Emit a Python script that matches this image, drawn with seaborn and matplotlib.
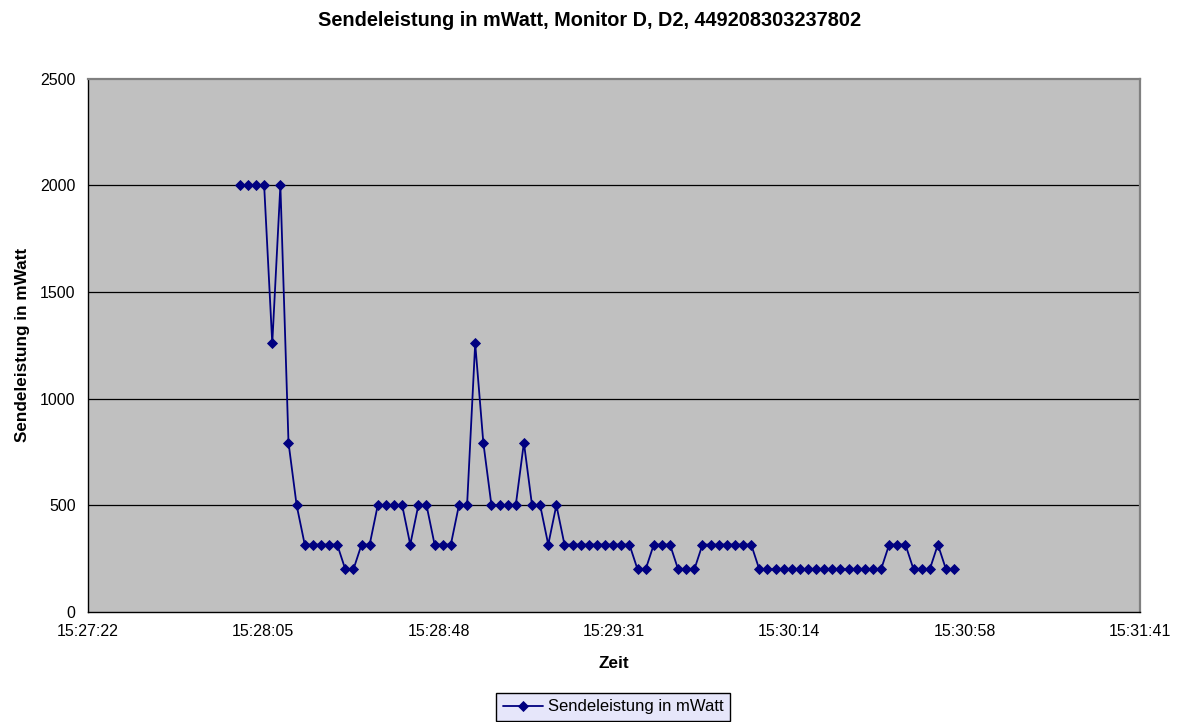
import matplotlib
matplotlib.use("Agg")
import matplotlib.pyplot as plt
import seaborn as sns
import pandas as pd

# sample times (hh:mm:ss) and transmit power in mW
times = [
    "15:27:59", "15:28:01", "15:28:03", "15:28:05", "15:28:07", "15:28:09", "15:28:11", "15:28:13",
    "15:28:15", "15:28:17", "15:28:19", "15:28:21", "15:28:23", "15:28:25", "15:28:27", "15:28:29",
    "15:28:31", "15:28:33", "15:28:35", "15:28:37", "15:28:39", "15:28:41", "15:28:43", "15:28:45",
    "15:28:47", "15:28:49", "15:28:51", "15:28:53", "15:28:55", "15:28:57", "15:28:59", "15:29:01",
    "15:29:03", "15:29:05", "15:29:07", "15:29:09", "15:29:11", "15:29:13", "15:29:15", "15:29:17",
    "15:29:19", "15:29:21", "15:29:23", "15:29:25", "15:29:27", "15:29:29", "15:29:31", "15:29:33",
    "15:29:35", "15:29:37", "15:29:39", "15:29:41", "15:29:43", "15:29:45", "15:29:47", "15:29:49",
    "15:29:51", "15:29:53", "15:29:55", "15:29:57", "15:29:59", "15:30:01", "15:30:03", "15:30:05",
    "15:30:07", "15:30:09", "15:30:11", "15:30:13", "15:30:15", "15:30:17", "15:30:19", "15:30:21",
    "15:30:23", "15:30:25", "15:30:27", "15:30:29", "15:30:31", "15:30:33", "15:30:35", "15:30:37",
    "15:30:39", "15:30:41", "15:30:43", "15:30:45", "15:30:47", "15:30:49", "15:30:51", "15:30:53",
    "15:30:55",
]
power = [
    2000, 2000, 2000, 2000, 1259, 2000, 794, 501,
    316, 316, 316, 316, 316, 200, 200, 316,
    316, 501, 501, 501, 501, 316, 501, 501,
    316, 316, 316, 501, 501, 1259, 794, 501,
    501, 501, 501, 794, 501, 501, 316, 501,
    316, 316, 316, 316, 316, 316, 316, 316,
    316, 200, 200, 316, 316, 316, 200, 200,
    200, 316, 316, 316, 316, 316, 316, 316,
    200, 200, 200, 200, 200, 200, 200, 200,
    200, 200, 200, 200, 200, 200, 200, 200,
    316, 316, 316, 200, 200, 200, 316, 200,
    200,
]

# x axis: Excel day fractions 0.644 .. 0.647 step 0.0005, in seconds of day
tick_secs = [55641.6, 55684.8, 55728.0, 55771.2, 55814.4, 55857.6, 55900.8]
tick_labels = ["15:27:22", "15:28:05", "15:28:48", "15:29:31", "15:30:14", "15:30:58", "15:31:41"]
y_ticks = [0, 500, 1000, 1500, 2000, 2500]


def to_sec(t):
    h, m, s = t.split(":")
    return int(h) * 3600 + int(m) * 60 + int(s)


df = pd.DataFrame({"sec": [to_sec(t) for t in times], "mW": power})

sns.set_style("white")
plt.rcParams["font.family"] = ["Liberation Sans", "DejaVu Sans"]
plt.rcParams["text.color"] = "black"
plt.rcParams["axes.labelcolor"] = "black"
plt.rcParams["xtick.color"] = "black"
plt.rcParams["ytick.color"] = "black"

fig = plt.figure(figsize=(11.8, 7.22), dpi=100)
ax = fig.add_axes([88 / 1180, 1 - 612 / 722, 1052 / 1180, (612 - 78.6) / 722])
ax.set_facecolor("#C0C0C0")

navy = "#000080"
sns.lineplot(data=df, x="sec", y="mW", ax=ax, color=navy, linewidth=1.3,
             marker="D", markersize=4.8, markeredgecolor=navy, markeredgewidth=0.6,
             label="Sendeleistung in mWatt", legend=False)

ax.set_xlim(tick_secs[0], tick_secs[-1])
ax.set_ylim(0, 2500)
ax.set_xticks(tick_secs)
ax.set_xticklabels(tick_labels)
ax.set_yticks(y_ticks)
ax.tick_params(direction="out", length=5, width=1, colors="black", labelsize=11.5, pad=4)

for v in y_ticks[1:-1]:
    ax.axhline(v, color="black", linewidth=0.9, zorder=1)

ax.spines["left"].set_color("black")
ax.spines["bottom"].set_color("black")
ax.spines["top"].set_color("#808080")
ax.spines["right"].set_color("#808080")
ax.spines["top"].set_linewidth(1.6)
ax.spines["right"].set_linewidth(1.6)
for s in ["left", "bottom"]:
    ax.spines[s].set_linewidth(1)

ax.set_xlabel("Zeit", fontsize=12.3, fontweight="bold", color="black")
ax.set_ylabel("Sendeleistung in mWatt", fontsize=12.3, fontweight="bold", color="black")
ax.yaxis.set_label_coords(-0.055, 0.5)
ax.xaxis.set_label_coords(0.5, -0.082)

fig.text(0.5, 1 - 20 / 722, "Sendeleistung in mWatt, Monitor D, D2, 449208303237802",
         ha="center", va="center", fontsize=14.3, fontweight="bold", color="black")

handles, labels = ax.get_legend_handles_labels()
leg = fig.legend(handles, labels, loc="center", bbox_to_anchor=(613 / 1180, 1 - 707 / 722),
                 fontsize=12, frameon=True, fancybox=False, edgecolor="black",
                 facecolor="#E6E6FA", framealpha=1, handlelength=2.4,
                 handletextpad=0.3, borderpad=0.4, borderaxespad=0)
leg.get_frame().set_linewidth(1)
for t in leg.get_texts():
    t.set_color("black")

fig.savefig("out.png", dpi=100)
